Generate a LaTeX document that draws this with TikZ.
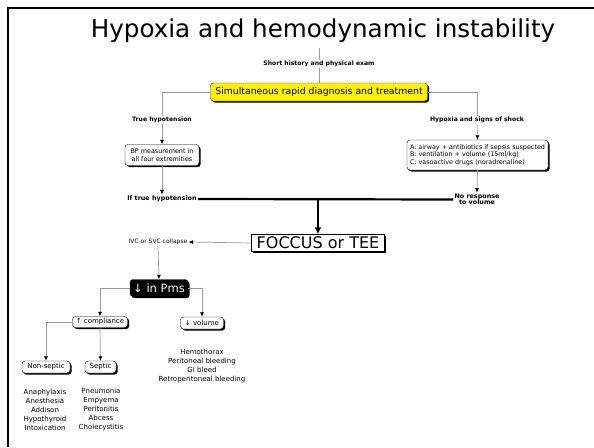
\documentclass[tikz,border=0pt]{standalone}
\usepackage{fontspec}
\setmainfont{DejaVu Sans}
\usepackage{tikz}
\usetikzlibrary{arrows.meta,shadows}

\newcommand{\fs}[1]{\fontsize{#1}{#1}\selectfont}

\begin{document}
\begin{tikzpicture}[x=1pt,y=-1pt,
    box/.style={draw=black, fill=white, rounded corners=3pt, inner sep=1.5pt,
      drop shadow={shadow xshift=1.6pt, shadow yshift=-1.6pt, opacity=1, fill=black}},
    lbl/.style={font=\fs{6.1}\bfseries, inner sep=1pt, align=center},
    link/.style={draw=gray!80, line width=0.7pt},
    arr/.style={link, -{Latex[black,length=4.5pt,width=4pt]}},
    thick line/.style={draw=black, line width=2.2pt},
    list/.style={font=\fs{7}, align=center, text depth=0pt}]
    \useasboundingbox (0,0) rectangle (594,447);
    % Frame
    \draw[line width=2.5pt] (594,8) -- (8,8) -- (8,447);
    
    % Title
    \node[anchor=base, inner sep=0] (title) at (323,37) {\fs{24.6}Hypoxia and hemodynamic instability};
    
    % Start
    \coordinate (start) at (319,48);
    \node[lbl] (hist) at (319,64) {Short history and physical exam};
    \node[box, fill=yellow, draw=black!80, minimum width=217pt, minimum height=18pt,
      font=\fs{9.3}] (sim) at (319,92) {Simultaneous rapid diagnosis and treatment};
    
    % Left branch
    \node[lbl] (truehyp) at (162,120) {True hypotension};
    \node[box, font=\fs{6.4}, align=center, minimum width=74pt, minimum height=21pt,
      inner sep=1pt] (bp) at (162,155) {BP measurement in\\[1pt]all four extremities};
    \node[lbl, font=\fs{6.4}\bfseries] (iftrue) at (162,199) {If true hypotension};
    
    % Right branch
    \node[lbl] (shock) at (477,120) {Hypoxia and signs of shock};
    \node[box, font=\fs{6.4}, align=left, minimum width=141pt, minimum height=30pt,
      inner sep=2pt] (abc) at (477.5,155) {A: airway + antibiotics if sepsis suspected\\[1pt]B: ventilation + volume (15ml/kg)\\[1pt]C: vasoactive drugs (noradrenaline)};
    \node[lbl, font=\fs{6.4}\bfseries] (noresp) at (477,199.5) {No response\\to volume};
    
    % Echo
    \node[draw=black, fill=white, font=\fs{16}, minimum width=133pt, minimum height=17pt,
      inner sep=1pt, drop shadow={shadow xshift=1.6pt, shadow yshift=-1.6pt, opacity=1, fill=black}] (foccus) at (318,243) {FOCCUS or TEE};
    \node[font=\fs{6}, inner sep=1pt] (ivc) at (158,242) {IVC or SVC collapse};
    \node[box, fill=black, text=white, font=\fs{11.5}, minimum width=58pt, minimum height=17pt] (pms) at (159,288) {↓ in Pms};
    \node[box, font=\fs{7}, minimum width=55pt, minimum height=11pt] (compl) at (100,322) {↑ compliance};
    \node[box, font=\fs{7}, minimum width=43pt, minimum height=12pt] (vol) at (202,323) {↓ volume};
    \node[box, font=\fs{7}, minimum width=48pt, minimum height=12pt] (nonsep) at (46,367) {Non-septic};
    \node[box, font=\fs{7}, minimum width=31pt, minimum height=12pt] (sep) at (100.5,367) {Septic};
    
    % Causes
    \node[list] (nslist) at (45,410) {Anaphylaxis\\[2pt]Anesthesia\\[2pt]Addison\\[2pt]Hypothyroid\\[2pt]Intoxication};
    \node[list] (slist) at (101,409) {Pneumonia\\[2pt]Empyema\\[2pt]Peritonitis\\[2pt]Abcess\\[2pt]Cholecystitis};
    \node[list] (vlist) at (202,365) {Hemothorax\\[2pt]Peritoneal bleeding\\[2pt]GI bleed\\[2pt]Retroperitoneal bleeding};
    
    % Connections
    \draw[link] (start) -- (hist.north);
    \draw[link] (hist.south) -- (sim.north);
    \draw[link] (sim.west) -| (truehyp.north);
    \draw[link] (sim.east) -| (shock.north);
    \draw[arr] (truehyp.south) -- (bp.north);
    \draw[arr] (shock.south) -- (abc.north);
    \draw[arr] (bp.south) -- (iftrue.north);
    \draw[arr] (abc.south) -- (noresp.north);
    \draw[thick line] (iftrue.east) -- (noresp.west);
    \draw[thick line, -{Latex[length=7pt,width=7pt]}] (iftrue.east -| foccus.north) -- (foccus.north);
    \draw[arr] (foccus.west) -- (ivc.east);
    \draw[arr] (ivc.south) -- (pms.north);
    \draw[arr] (pms.west) -| (compl.north);
    \draw[arr] (pms.east) -| (vol.north);
    \draw[arr] (compl.west) -| (nonsep.north);
    \draw[arr] (compl.south) -- (sep.north);
\end{tikzpicture}
\end{document}
